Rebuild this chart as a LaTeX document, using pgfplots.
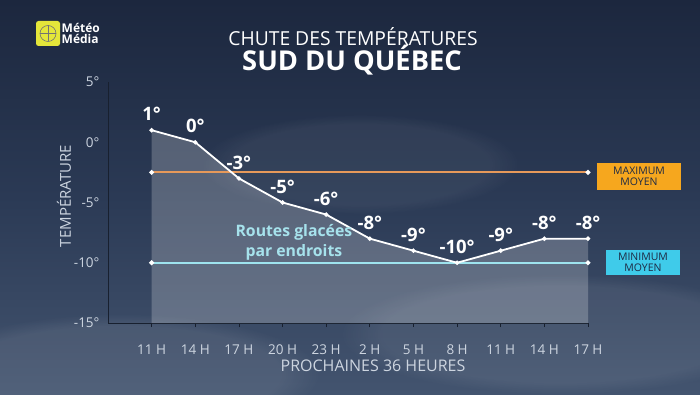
\documentclass[border=0pt]{standalone}
\usepackage{pgfplots}
\pgfplotsset{compat=1.18}
\usetikzlibrary{fadings}
\usepackage{fontspec}
\setmainfont{Open Sans}
\definecolor{bgtop}{HTML}{1C273E}
\definecolor{bgmid}{HTML}{2B3A55}
\definecolor{bgbot}{HTML}{43546F}
\definecolor{maxline}{HTML}{E6995A}
\definecolor{minline}{HTML}{9EE3EE}
\definecolor{maxbox}{HTML}{F6A71E}
\definecolor{minbox}{HTML}{3FCBEA}
\definecolor{ticktxt}{HTML}{CDD5E0}
\definecolor{routes}{HTML}{A6E2EC}
\definecolor{axisdark}{HTML}{18202F}
\definecolor{logoy}{HTML}{E4E63A}
\definecolor{boxtxt}{HTML}{1E2A44}
\begin{document}
\begin{tikzpicture}[x=1pt,y=1pt]
% background
\shade[top color=bgtop, bottom color=bgbot, middle color=bgmid] (0,0) rectangle (700,394);
\fill[white, opacity=0.08, path fading=circle with fuzzy edge 20 percent] (120,20) ellipse (200 and 60);
\fill[white, opacity=0.07, path fading=circle with fuzzy edge 20 percent] (560,60) ellipse (220 and 60);
\fill[white, opacity=0.05, path fading=circle with fuzzy edge 20 percent] (360,230) ellipse (160 and 50);
% logo
\fill[logoy, rounded corners=2.5pt] (36,348) rectangle (60,373);
\draw[black!55, line width=0.6pt] (48,360.5) circle (8);
\draw[black!55, line width=0.5pt] (40,360.5) -- (56,360.5) (48,352.5) -- (48,368.5);
\node[anchor=west, white, font=\fontsize{12}{11}\selectfont\bfseries, align=left, inner sep=0pt] at (61.5,360.5) {Météo\\Média};
% titles
\node[white, font=\fontsize{19.3}{21}\selectfont] at (353,357) {CHUTE DES TEMPÉRATURES};
\node[white, font=\fontsize{27.3}{29}\selectfont\bfseries] at (352,334) {SUD DU QUÉBEC};
% axis labels
\node[ticktxt, font=\fontsize{16}{18}\selectfont] at (373,28) {PROCHAINES 36 HEURES};
\node[ticktxt, font=\fontsize{15}{18}\selectfont, rotate=90] at (64,198) {TEMPÉRATURE};
% legend boxes
\fill[maxbox] (597,204) rectangle (681,231);
\node[boxtxt, font=\fontsize{10.5}{11.5}\selectfont, align=center] at (639,217.5) {MAXIMUM\\MOYEN};
\fill[minbox] (606,119) rectangle (680,144);
\node[boxtxt, font=\fontsize{10.5}{11.5}\selectfont, align=center] at (643,131.5) {MINIMUM\\MOYEN};
\begin{axis}[
  at={(108pt,71pt)}, anchor=south west,
  scale only axis, width=480pt, height=241pt,
  xmin=-1, xmax=10, ymin=-15, ymax=5,
  axis x line*=bottom, axis y line*=left,
  axis line style={axisdark, line width=0.8pt, -},
  xtick={0,...,10},
  xticklabels={11 H,14 H,17 H,20 H,23 H,2 H,5 H,8 H,11 H,14 H,17 H},
  ytick={-15,-10,-5,0,5},
  yticklabels={-15°,-10°,-5°,0°,5°},
  tick label style={ticktxt, font=\fontsize{13.5}{16}\selectfont},
  /pgf/number format/assume math mode=true,
  xticklabel shift=14pt,
  yticklabel shift=1pt,
  x tick style={axisdark, line width=0.8pt},
  y tick style={draw=none},
  major tick length=4pt,
  tick align=outside,
  clip=false,
]
\addplot[draw=none, fill=white, fill opacity=0.22] coordinates {
(0,-15) (0,1) (1,0) (2,-3) (3,-5) (4,-6) (5,-8) (6,-9) (7,-10) (8,-9) (9,-8) (10,-8) (10,-15)};
\addplot[maxline, line width=2pt, mark=*, mark size=1.3pt, mark options={fill=white, draw=white}] coordinates {(0,-2.5) (10,-2.5)};
\addplot[minline, line width=2pt, mark=*, mark size=1.3pt, mark options={fill=white, draw=white}] coordinates {(0,-10) (10,-10)};
\addplot[white, line width=1.8pt, mark=*, mark size=1.2pt, mark options={fill=white},
  point meta=explicit symbolic,
  nodes near coords,
  nodes near coords style={anchor=center, yshift=16pt, white, font=\fontsize{18.5}{20}\selectfont\bfseries}]
coordinates {(0,1)[1°] (1,0)[0°] (2,-3)[-3°] (3,-5)[-5°] (4,-6)[-6°] (5,-8)[-8°] (6,-9)[-9°] (7,-10)[-10°] (8,-9)[-9°] (9,-8)[-8°] (10,-8)[-8°]};
\node[routes, font=\fontsize{15.8}{19.5}\selectfont\bfseries, align=center] at (axis cs:3.26,-8.3) {Routes glacées\\par endroits};
\end{axis}
\pgfresetboundingbox
\path (0,0) rectangle (700,394);
\end{tikzpicture}
\end{document}
